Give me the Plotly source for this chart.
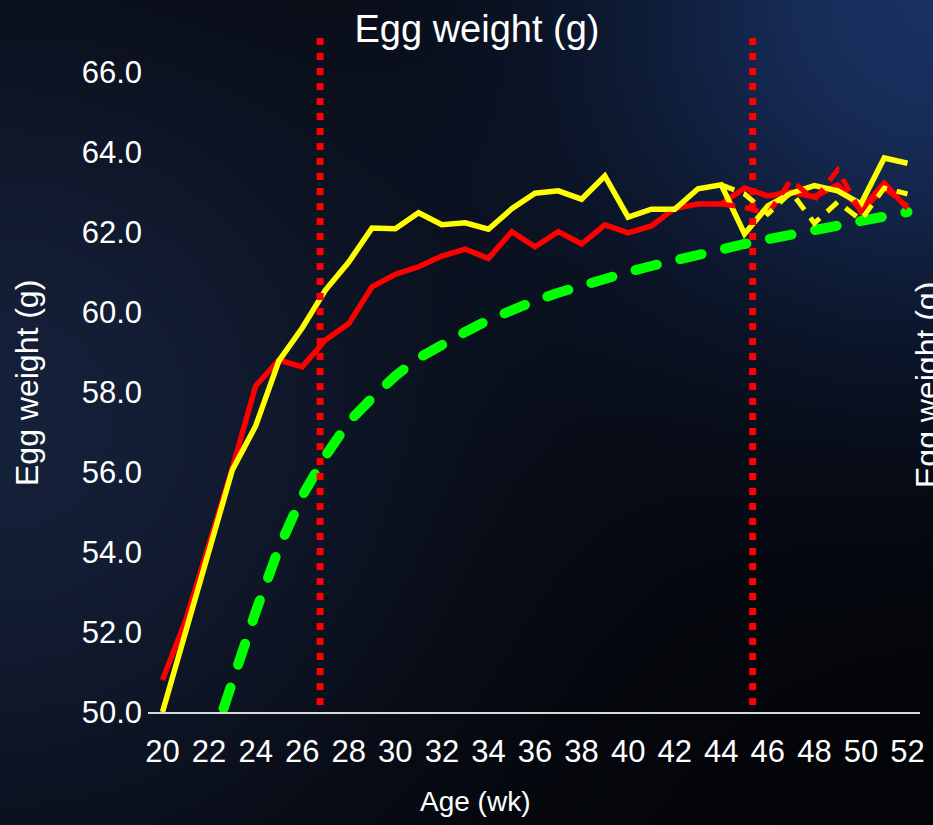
import base64
import struct
import zlib

import numpy as np
import plotly.graph_objects as go

# ---------------- data ----------------
weeks = list(range(20, 53))

flock_a = [50.8, 52.3, 54.2, 56.1, 58.15, 58.8, 58.63, 59.3, 59.71, 60.63,
           60.94, 61.13, 61.4, 61.57, 61.34, 62.01, 61.63, 62.01, 61.7, 62.18,
           61.98, 62.15, 62.59, 62.7, 62.7, 63.1, 62.9, 63.0, 62.88, 63.18,
           62.55, 63.22, 62.59]

flock_b = [50.0, 52.0, 54.05, 56.05, 57.15, 58.78, 59.6, 60.55, 61.25, 62.1,
           62.08, 62.48, 62.18, 62.23, 62.07, 62.58, 62.97, 63.03, 62.82, 63.4,
           62.37, 62.57, 62.57, 63.08, 63.18, 61.95, 62.65, 62.97, 63.16, 63.03,
           62.7, 63.85, 63.72]

proj_weeks = list(range(44, 53))
flock_a_proj = [62.7, 62.62, 62.45, 63.3, 62.8, 63.55, 62.5, 63.1, 62.65]
flock_b_proj = [63.18, 62.95, 62.45, 63.0, 62.22, 62.75, 62.3, 63.1, 62.95]

std_weeks = list(range(22, 53))
standard = [49.0, 50.8, 52.5, 54.1, 55.4, 56.4, 57.25, 57.85, 58.4, 58.85,
            59.2, 59.5, 59.8, 60.05, 60.28, 60.48, 60.67, 60.85, 61.0, 61.15,
            61.3, 61.45, 61.58, 61.7, 61.82, 61.94, 62.05, 62.16, 62.27, 62.38,
            62.5]

marker_weeks = [26.77, 45.35]

x_ticks = list(range(20, 53, 2))
y_ticks = [50, 52, 54, 56, 58, 60, 62, 64, 66]
y_tick_text = [f"{v:.1f}" for v in y_ticks]

title_text = "Egg weight (g)"
y_title = "Egg weight (g)"
x_title = "Age (wk)"

# ---------------- background image (gradient) ----------------
W, H = 311, 275
yy, xx = np.mgrid[0:H, 0:W].astype(float)
px = xx * 933.0 / W
py = yy * 825.0 / H
base = np.array([3, 4, 7], dtype=float)
img = np.zeros((H, W, 3)) + base
d1 = np.sqrt((px - 933) ** 2 + (py - 0) ** 2)
w1 = np.exp(-d1 ** 2 / (2 * 250.0 ** 2))
img += w1[..., None] * np.array([22, 45, 90], dtype=float)
d2 = np.sqrt((px - 0) ** 2 + (py - 420) ** 2)
w2 = np.exp(-d2 ** 2 / (2 * 330.0 ** 2))
img += w2[..., None] * np.array([18, 28, 50], dtype=float)
img = np.clip(img, 0, 255).astype(np.uint8)


def to_png(arr):
    h, w, _ = arr.shape
    raw = b"".join(b"\x00" + arr[r].tobytes() for r in range(h))

    def chunk(tag, data):
        c = struct.pack(">I", len(data)) + tag + data
        return c + struct.pack(">I", zlib.crc32(tag + data) & 0xFFFFFFFF)

    return (b"\x89PNG\r\n\x1a\n"
            + chunk(b"IHDR", struct.pack(">IIBBBBB", w, h, 8, 2, 0, 0, 0))
            + chunk(b"IDAT", zlib.compress(raw, 9))
            + chunk(b"IEND", b""))


bg_uri = "data:image/png;base64," + base64.b64encode(to_png(img)).decode()

# ---------------- figure ----------------
FONT = "Liberation Sans, Arial, sans-serif"
L, R, T, B = 148, 13, 38, 113
PW, PH = 933 - L - R, 825 - T - B

fig = go.Figure()
fig.add_trace(go.Scatter(x=std_weeks, y=standard, mode="lines",
                         line=dict(color="#00ff00", width=10, dash="22px,24px"),
                         name="Standard"))
fig.add_trace(go.Scatter(x=weeks, y=flock_a, mode="lines",
                         line=dict(color="#ff0000", width=5.5), name="Flock A"))
fig.add_trace(go.Scatter(x=weeks, y=flock_b, mode="lines",
                         line=dict(color="#ffff00", width=5.5), name="Flock B"))
fig.add_trace(go.Scatter(x=proj_weeks, y=flock_a_proj, mode="lines",
                         line=dict(color="#ff0000", width=5, dash="14px,10px"),
                         name="Flock A (2)"))
fig.add_trace(go.Scatter(x=proj_weeks, y=flock_b_proj, mode="lines",
                         line=dict(color="#ffff00", width=5, dash="14px,10px"),
                         name="Flock B (2)"))

for wk in marker_weeks:
    fig.add_shape(type="line", xref="x", yref="y", x0=wk, x1=wk, y0=66.85, y1=50,
                  line=dict(color="#ff0000", width=7, dash="7px,8px"), layer="above")

xr0 = 20 - 14.5 / 23.28
xr1 = 52 + 12.5 / 23.28

fig.update_layout(
    width=933, height=825,
    margin=dict(l=L, r=R, t=T, b=B, autoexpand=False),
    paper_bgcolor="#06080e",
    plot_bgcolor="rgba(0,0,0,0)",
    showlegend=False,
    hovermode=False,
    font=dict(family=FONT, color="#ffffff"),
    title=dict(text=title_text, x=477 / 933, y=1 - 29 / 825, xref="container",
               yref="container", xanchor="center", yanchor="middle",
               font=dict(size=38, color="#ffffff", family=FONT)),
    xaxis=dict(range=[xr0, xr1], tickmode="array", tickvals=x_ticks,
               ticktext=[str(v) for v in x_ticks], showgrid=False, zeroline=False,
               showline=True, linecolor="#d9d9d9", linewidth=2, ticks="",
               tickfont=dict(size=31, color="#ffffff", family=FONT),
               ticklabelstandoff=11),
    yaxis=dict(range=[50, 66.85], tickmode="array", tickvals=y_ticks,
               ticktext=y_tick_text, showgrid=False, zeroline=False,
               showline=False, ticks="",
               tickfont=dict(size=31, color="#ffffff", family=FONT),
               ticklabelstandoff=5),
    images=[dict(source=bg_uri, xref="paper", yref="paper",
                 x=-L / PW, y=1 + T / PH, sizex=933 / PW, sizey=825 / PH,
                 xanchor="left", yanchor="top", sizing="stretch", layer="below")],
    annotations=[
        dict(text=y_title, xref="paper", yref="paper", x=(27 - L) / PW,
             y=(712 - 383) / PH, textangle=-90, showarrow=False,
             xanchor="center", yanchor="middle",
             font=dict(size=32, color="#ffffff", family=FONT)),
        dict(text=y_title, xref="paper", yref="paper", x=(927 - L) / PW,
             y=(712 - 385) / PH, textangle=-90, showarrow=False,
             xanchor="center", yanchor="middle",
             font=dict(size=32, color="#ffffff", family=FONT)),
        dict(text=x_title, xref="paper", yref="paper", x=(475 - L) / PW,
             y=(712 - 801) / PH, showarrow=False,
             xanchor="center", yanchor="middle",
             font=dict(size=28, color="#ffffff", family=FONT)),
    ],
)

post = (
    "document.documentElement.style.margin='0';"
    "document.body.style.margin='0';"
    "document.body.style.overflow='hidden';"
    "var tr=document.querySelectorAll('.scatterlayer .trace');"
    "if(tr.length){tr[0].querySelectorAll('path.js-line').forEach(function(p){"
    "p.style.strokeLinecap='round';});}"
)

fig.write_html("out.html", post_script=post,
               config={"displayModeBar": False, "staticPlot": True})
